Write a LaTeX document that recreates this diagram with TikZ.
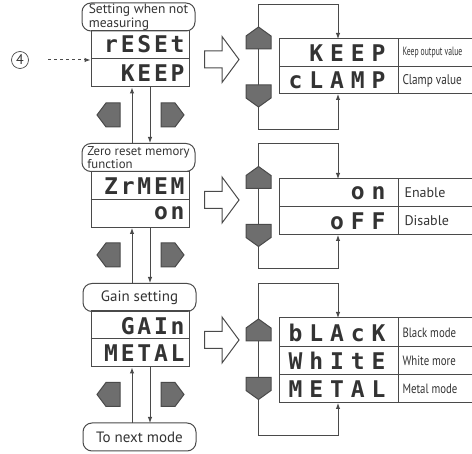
\documentclass[tikz,border=0pt]{standalone}
\usepackage{fontspec}
\setmainfont{PT Sans}
\newfontfamily\segfont{DejaVu Sans Mono}[LetterSpace=12]
\newfontfamily\segwidefont{DejaVu Sans Mono}[LetterSpace=30]
\newfontfamily\narrowfont{PT Sans}[FakeStretch=0.8]
\newfontfamily\slimfont{PT Sans}[FakeStretch=0.64]
\usetikzlibrary{arrows.meta,positioning}
\definecolor{lc}{HTML}{4A4A4A}
\definecolor{kc}{HTML}{6E6E6E}
\definecolor{tc}{HTML}{333333}
\tikzset{
  title/.style={draw=lc, rounded corners=9pt, align=left, inner sep=1pt,
    text=tc, minimum width=113pt, minimum height=28pt},
  disp/.style={draw=lc, minimum width=98pt, minimum height=56pt, inner sep=0pt},
  seg/.style={text=tc, inner sep=0pt, font=\segfont\bfseries\fontsize{23}{23}\selectfont},
  segwide/.style={text=tc, inner sep=0pt, font=\segwidefont\bfseries\fontsize{23}{23}\selectfont},
  lbl/.style={anchor=west, text=tc, inner sep=0pt},
  keyl/.pic={\draw[draw=lc, fill=kc] (11.5,-12) -- (-2.5,-12) -- (-11.5,0) -- (-2.5,12) -- (11.5,12) -- cycle;},
  keyr/.pic={\draw[draw=lc, fill=kc] (-11.5,-12) -- (2.5,-12) -- (11.5,0) -- (2.5,12) -- (-11.5,12) -- cycle;},
  keyu/.pic={\draw[draw=lc, fill=kc] (-12.5,11) -- (-12.5,-2) -- (0,-11) -- (12.5,-2) -- (12.5,11) -- cycle;},
  keyd/.pic={\draw[draw=lc, fill=kc] (-12.5,-11) -- (-12.5,2) -- (0,11) -- (12.5,2) -- (12.5,-11) -- cycle;},
  bigarr/.pic={\draw[draw=lc, fill=white] (-17,-8.5) -- (0.5,-8.5) -- (0.5,-23) -- (17.5,0)
    -- (0.5,23) -- (0.5,8.5) -- (-17,8.5) -- cycle;}
}
\begin{document}
\begin{tikzpicture}[x=1pt, y=-1pt, line width=1pt, draw=lc,
  >={Latex[length=6pt,width=4.5pt]}]
\useasboundingbox (0,0) rectangle (472,454);
% linke Spalte: Titel und Anzeigen
\node[title, font=\fontsize{13.5}{9}\selectfont] (tset) at (138.5,17) {Setting when not\\measuring};
\node[disp] (dset) at (140,59) {};
\node[title, font=\fontsize{12.8}{9}\selectfont] (tzero) at (138.5,157.5) {Zero reset memory\\function};
\node[title, font=\fontsize{15}{15}\selectfont] (tgain) at (139.5,297.5) {Gain setting};
\node[disp] (dzero) at (140,199.5) {};
\node[disp] (dgain) at (140,339) {};
\node[title, font=\fontsize{15}{15}\selectfont] (tnext) at (139.5,437) {To next mode};
\draw (dset.west) -- (dset.east);
\draw (dzero.west) -- (dzero.east);
\draw (dgain.west) -- (dgain.east);
% Anzeigetexte links
\node[seg, anchor=east] (sreset) at (185,44) {rESEt};
\node[seg, anchor=east] (skeep)  at (185,73) {KEEP};
\node[seg, anchor=east] (szrmem) at (185,186) {ZrMEM};
\node[seg, anchor=east] (son)    at (185,213.5) {on};
\node[seg, anchor=east] (sgain)  at (185,326) {GAIn};
\node[seg, anchor=east] (smetal) at (185,353) {METAL};
% Einsprung (4)
\node[circle, draw=lc, line width=0.7pt, minimum size=17pt, inner sep=0pt, text=tc, font=\fontsize{14}{14}\selectfont] (n4) at (20,60) {4};
\coordinate (e4) at (48,60);
\draw[->, dashed] (e4) -- (e4 -| dset.west);
% Pfeile zwischen den Modi
\coordinate (u1) at (132,143);
\coordinate (v1) at (150,143);
\coordinate (u2) at (132,283);
\coordinate (v2) at (150,283);
\coordinate (u3) at (132,423);
\coordinate (v3) at (150,423);
\draw[->] (u1) -- (u1 |- dset.south);
\draw[->] (v1 |- dset.south) -- (v1);
\draw[->] (u2) -- (u2 |- dzero.south);
\draw[->] (v2 |- dzero.south) -- (v2);
\draw[->] (u3) -- (u3 |- dgain.south);
\draw[->] (v3 |- dgain.south) -- (v3);
% Tasten links/rechts
\foreach \y in {115,255,394.5} {
  \pic at (108.5,\y) {keyl};
  \pic at (172.5,\y) {keyr};
}
% grosse Pfeile
\foreach \y in {59.5,200,340} \pic at (221.5,\y) {bigarr};
% rechte Spalte: Auswahltabellen
\draw (472,39) -- (279,39) -- (279,94) -- (472,94);
\draw (279,66.5) -- (472,66.5) (398,39) -- (398,94);
\draw (472,179) -- (279,179) -- (279,235) -- (472,235);
\draw (279,207) -- (472,207) (398,179) -- (398,235);
\draw (472,318) -- (279,318) -- (279,403) -- (472,403);
\draw (279,347) -- (472,347) (279,375) -- (472,375) (398,318) -- (398,403);
\node[segwide, anchor=east] (rkeep)  at (386,53) {KEEP};
\node[segwide, anchor=east] (rclamp) at (386,80.5) {cLAMP};
\node[segwide, anchor=east] (ron)    at (386,193) {on};
\node[segwide, anchor=east] (roff)   at (386,221) {oFF};
\node[segwide, anchor=east] (rblack) at (386,332.5) {bLAcK};
\node[segwide, anchor=east] (rwhite) at (386,361) {WhItE};
\node[segwide, anchor=east] (rmetal) at (386,389) {METAL};
\node[lbl, font=\slimfont\fontsize{12}{12}\selectfont] (lkeep) at (402,53) {Keep output value};
\node[lbl, font=\narrowfont\fontsize{14}{14}\selectfont] (lclamp) at (402,80.5) {Clamp value};
\node[lbl, font=\fontsize{14}{14}\selectfont] (lenable) at (404,193) {Enable};
\node[lbl, font=\fontsize{14}{14}\selectfont] (ldisable) at (404,221) {Disable};
\node[lbl, font=\narrowfont\fontsize{13.5}{13.5}\selectfont] (lblack) at (402,332.5) {Black mode};
\node[lbl, font=\narrowfont\fontsize{13.5}{13.5}\selectfont] (lwhite) at (402,361) {White more};
\node[lbl, font=\narrowfont\fontsize{13.5}{13.5}\selectfont] (lmetal) at (402,389) {Metal mode};
% Tasten hoch/runter mit Schleifen
\pic at (258.5,38) {keyu};
\pic at (258.5,96) {keyd};
\draw (258,49) -- (258,85);
\draw[->] (258,27) -- (258,5) -- (338,5) -- (338,39);
\draw[->] (258,107) -- (258,130) -- (338,130) -- (338,94);
\pic at (258.5,177.5) {keyu};
\pic at (258.5,235.5) {keyd};
\draw (258,188.5) -- (258,224.5);
\draw[->] (258,166.5) -- (258,144) -- (338,144) -- (338,179);
\draw[->] (258,246.5) -- (258,269) -- (338,269) -- (338,235);
\pic at (258.5,330) {keyu};
\pic at (258.5,388.5) {keyd};
\draw (258,341) -- (258,377.5);
\draw[->] (258,319) -- (258,284) -- (338,284) -- (338,318);
\draw[->] (258,399.5) -- (258,436) -- (338,436) -- (338,403);
\end{tikzpicture}
\end{document}
